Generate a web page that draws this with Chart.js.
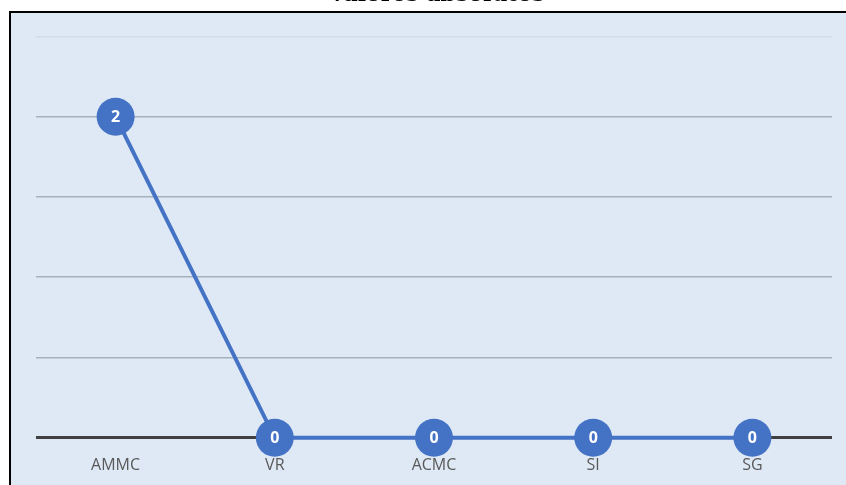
<!DOCTYPE html>
<html>
<head>
<meta charset="utf-8">
<script src="https://cdn.jsdelivr.net/npm/chart.js@4.4.1/dist/chart.umd.min.js"></script>
<style>
    html, body { margin: 0; padding: 0; background: #ffffff; overflow: hidden; }
    body { width: 846px; height: 485px; position: relative; }
    #caja {
        position: absolute; left: 9px; top: 11px; width: 860px; height: 500px;
        border: 2px solid #000000; background: #dee9f5; box-sizing: border-box;
    }
    #grafico { position: absolute; left: 0; top: -20px; }
</style>
</head>
<body>
<div id="caja"></div>
<canvas id="grafico" width="851" height="524" style="width:851px;height:524px"></canvas>
<script>
const categorias = ["AMMC", "VR", "ACMC", "SI", "SG"];
const valores = [2, 0, 0, 0, 0];
const titulo = "Valores absolutos";

// etiquetas blancas dentro de cada punto
const etiquetas = {
    id: "etiquetas",
    afterDatasetsDraw(chart) {
        const ctx = chart.ctx;
        const meta = chart.getDatasetMeta(0);
        ctx.save();
        ctx.fillStyle = "#ffffff";
        ctx.font = "bold 16px 'Open Sans', sans-serif";
        ctx.textAlign = "center";
        ctx.textBaseline = "middle";
        meta.data.forEach((p, i) => {
            ctx.fillText(String(valores[i]), p.x, p.y + 1);
        });
        ctx.restore();
    }
};

const ctx = document.getElementById("grafico").getContext("2d");
new Chart(ctx, {
    type: "line",
    data: {
        labels: categorias,
        datasets: [{
            data: valores,
            borderColor: "#4472c4",
            borderWidth: 4,
            backgroundColor: "#4472c4",
            pointRadius: 19,
            pointHoverRadius: 19,
            pointBorderWidth: 0,
            tension: 0,
            clip: false
        }]
    },
    options: {
        responsive: false,
        animation: false,
        devicePixelRatio: 1,
        layout: { padding: { left: 36, right: 14, top: 0, bottom: 11 } },
        plugins: {
            legend: { display: false },
            tooltip: { enabled: false },
            title: {
                display: true,
                text: titulo,
                color: "#000000",
                font: { family: "'DejaVu Serif', serif", size: 22, weight: "bold" },
                padding: { top: 2, bottom: 28 }
            }
        },
        scales: {
            x: {
                offset: true,
                grid: { display: false, drawTicks: false },
                border: { display: false },
                ticks: {
                    color: "#595959",
                    padding: 18,
                    font: { family: "'Open Sans', sans-serif", size: 16 }
                }
            },
            y: {
                min: 0,
                max: 2.5,
                ticks: { display: false, stepSize: 0.5 },
                border: { display: false },
                grid: {
                    drawTicks: false,
                    color: c => c.tick.value === 0 ? "#404040" : (c.tick.value === 2.5 ? "#d2dce8" : "#a6b1bf"),
                    lineWidth: c => c.tick.value === 0 ? 3 : 1.5
                }
            }
        }
    },
    plugins: [etiquetas]
});
</script>
</body>
</html>
